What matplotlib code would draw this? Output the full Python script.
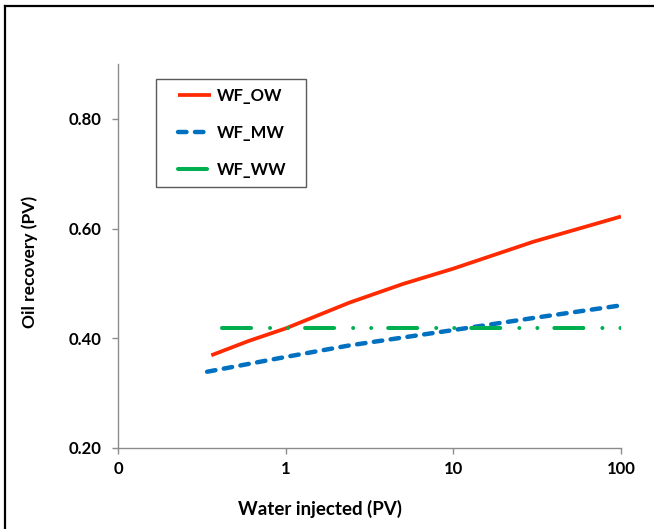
import matplotlib
matplotlib.use("Agg")
import matplotlib.pyplot as plt
from matplotlib.lines import Line2D
from matplotlib.patches import Rectangle

plt.rcParams['font.family'] = ['Lato', 'DejaVu Sans']
plt.rcParams['font.weight'] = 'bold'
plt.rcParams['lines.scale_dashes'] = False

# Oil recovery versus water injected (both in pore volumes)
ow_x = [0.36, 0.6, 1.0, 2.4, 5.0, 10.0, 30.0, 100.0]
ow_y = [0.369, 0.395, 0.418, 0.465, 0.499, 0.527, 0.576, 0.622]

mw_x = [0.34, 1.0, 2.4, 10.0, 30.0, 100.0]
mw_y = [0.339, 0.366, 0.387, 0.415, 0.437, 0.460]

ww_x = [0.42, 100.0]
ww_y = [0.418, 0.418]

series_labels = ['WF_OW', 'WF_MW', 'WF_WW']
x_ticks = [0.1, 1, 10, 100]
x_ticklabels = ['0', '1', '10', '100']
y_ticks = [0.2, 0.4, 0.6, 0.8]
y_ticklabels = ['0.20', '0.40', '0.60', '0.80']

W, H = 654, 529
fig = plt.figure(figsize=(W / 100, H / 100), dpi=100)
ax = fig.add_axes([118 / W, 1 - 448 / H, (621 - 118) / W, (448 - 64) / H])

ax.plot(ow_x, ow_y, color='#FF2A00', lw=2.7, solid_capstyle='butt',
        label=series_labels[0])
ax.plot(mw_x, mw_y, color='#0070C0', lw=3.2, dash_capstyle='round',
        linestyle=(0, (6.1, 6.1)), label=series_labels[1])
ax.plot(ww_x, ww_y, color='#00B050', lw=2.9, dash_capstyle='round',
        linestyle=(0, (20.9, 13.7, 0.01, 13.0, 0.01, 12.2)),
        label=series_labels[2])

ax.set_xscale('log')
ax.set_xlim(0.1, 100)
ax.set_ylim(0.2, 0.9)
ax.set_xticks(x_ticks)
ax.set_xticklabels(x_ticklabels)
ax.xaxis.set_minor_locator(matplotlib.ticker.NullLocator())
ax.set_yticks(y_ticks)
ax.set_yticklabels(y_ticklabels)

for side in ['top', 'right']:
    ax.spines[side].set_visible(False)
for side in ['left', 'bottom']:
    ax.spines[side].set_color('#8C8C8C')
    ax.spines[side].set_linewidth(1.0)
ax.tick_params(axis='both', direction='out', length=4.3, width=1.0,
               color='#8C8C8C', labelsize=12, labelcolor='black')
ax.tick_params(axis='y', pad=7.5)
ax.tick_params(axis='x', pad=5)

fig.text(319.5 / W, 1 - 509 / H, 'Water injected (PV)', ha='center', va='center',
         fontsize=13.5, fontweight='bold')
fig.text(30 / W, 1 - 262 / H, 'Oil recovery (PV)', ha='center', va='center',
         rotation=90, fontsize=12.5, fontweight='bold')

# Legend entries without their own frame, boxed by a separate rectangle
leg = ax.legend(loc='upper left', bbox_to_anchor=(178 / W, 1 - 88 / H),
                bbox_transform=fig.transFigure, borderaxespad=0, borderpad=0,
                fontsize=12, handlelength=2.0, handletextpad=0.32,
                labelspacing=1.26, frameon=False)
leg.set_zorder(6)
for t in leg.get_texts():
    t.set_fontweight('bold')
ax.add_patch(Rectangle((156 / W, 1 - 187 / H), 150 / W, 108 / H,
                       transform=fig.transFigure, facecolor='white',
                       edgecolor='#5A5A5A', lw=1.0, zorder=5, clip_on=False))

# Outer frame (left and top edges)
fig.add_artist(Line2D([4.5 / W, 4.5 / W], [0, 1 - 6 / H], transform=fig.transFigure,
                      color='black', lw=1.6))
fig.add_artist(Line2D([4.5 / W, 1], [1 - 6 / H, 1 - 6 / H], transform=fig.transFigure,
                      color='black', lw=1.6))

fig.savefig('out.png', dpi=100)
